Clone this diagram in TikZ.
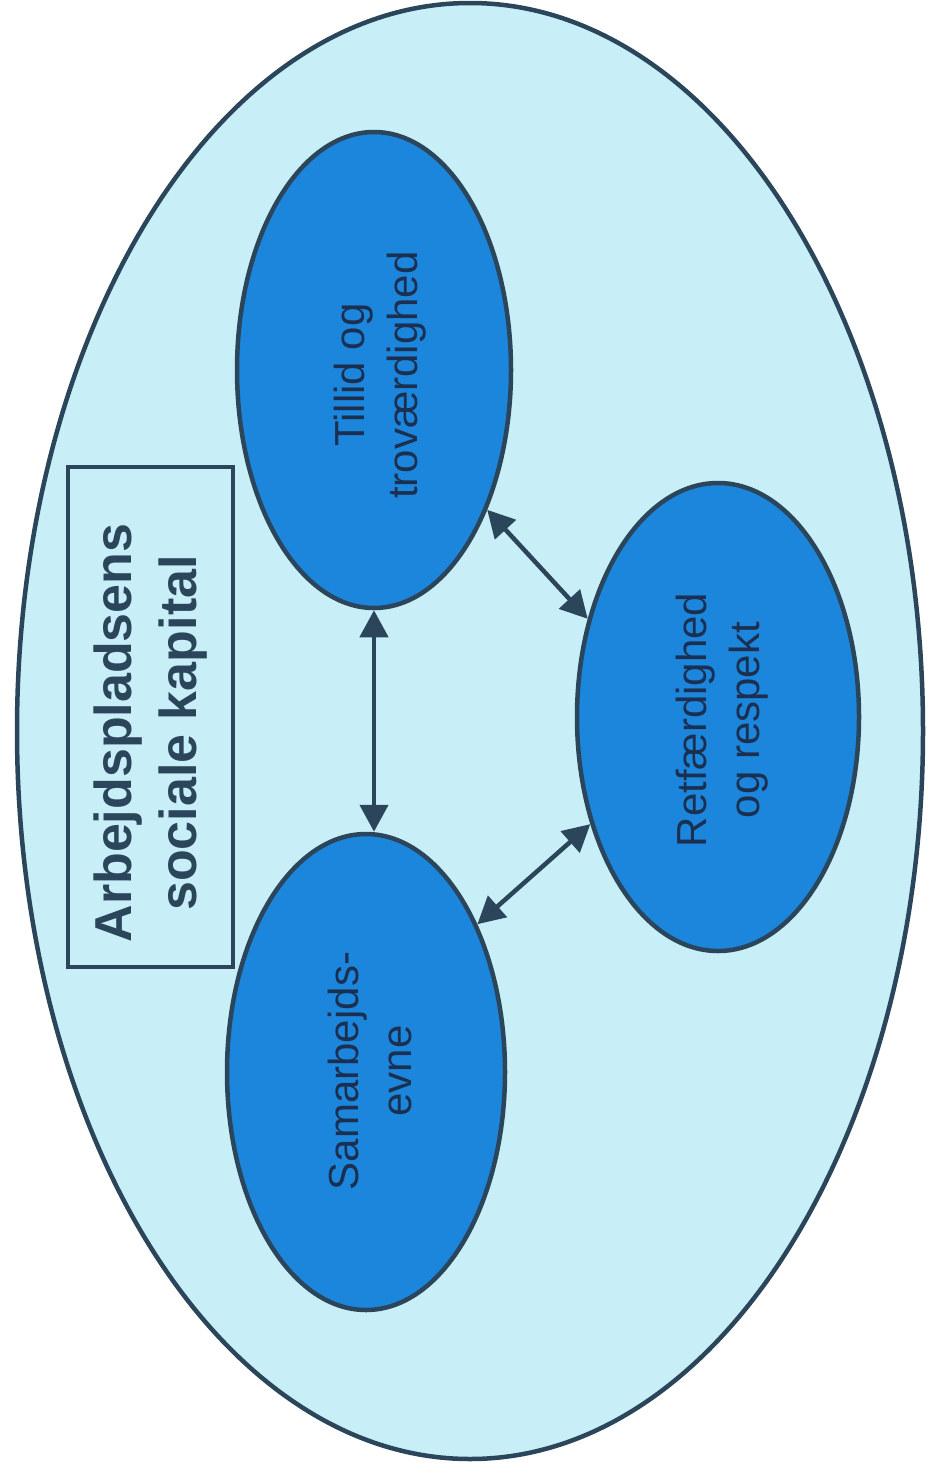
\documentclass[tikz,border=0pt]{standalone}
\usepackage{fontspec}
\setmainfont{Liberation Sans}
\usetikzlibrary{shapes.geometric,arrows.meta}
\definecolor{outerfill}{HTML}{C8EEF8}
\definecolor{innerfill}{HTML}{1C86DC}
\definecolor{edgecol}{HTML}{2B465A}
\definecolor{txtcol}{HTML}{1B3050}
\begin{document}
\begin{tikzpicture}[x=1pt,y=-1pt,
  bubble/.style={ellipse, draw=edgecol, line width=4.5pt, fill=innerfill, inner sep=0pt},
  lbl/.style={rotate=90, align=center, text=txtcol, inner sep=0pt,
              font=\fontsize{42}{52.5}\selectfont},
  link/.style={draw=edgecol, line width=4.5pt,
              {Triangle[length=27pt,width=28pt]}-{Triangle[length=27pt,width=28pt]}}]
\useasboundingbox (0,0) rectangle (929,1470);
% outer ellipse
\node[ellipse, draw=edgecol, line width=4.5pt, fill=outerfill, inner sep=0pt,
      minimum width=906pt, minimum height=1456pt] (cap) at (470,731) {};
% title box
\node[draw=edgecol, line width=3.5pt, minimum width=165pt, minimum height=500pt,
      inner sep=0pt] (titlebox) at (150.5,717) {};
\node[rotate=90, align=center, text=edgecol, inner sep=0pt,
      font=\fontsize{52}{65}\selectfont\bfseries] (title) at (150.5,733)
      {Arbejdspladsens\\sociale kapital};
% three bubbles
\node[bubble, minimum width=274pt, minimum height=476pt] (T) at (374,370) {};
\node[lbl] (Tt) at (380,375) {Tillid og\\troværdighed};
\node[bubble, minimum width=282pt, minimum height=468pt] (R) at (718,717) {};
\node[lbl] (Rt) at (722,720) {Retfærdighed\\og respekt};
\node[bubble, minimum width=278pt, minimum height=476pt] (S) at (366,1072) {};
\node[lbl] (St) at (370,1071) {Samarbejds-\\evne};
% connectors
\draw[link] (T.south) -- (T.south |- S.north);
\draw[link] (T.-51) -- (R.143);
\draw[link] (R.220) -- (S.53);
\end{tikzpicture}
\end{document}
